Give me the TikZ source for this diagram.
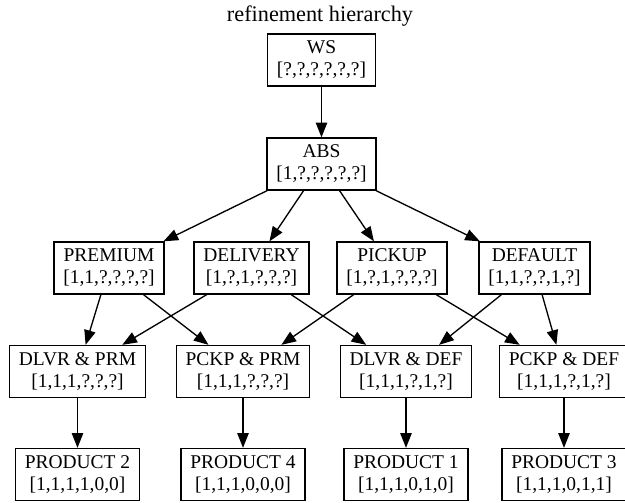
\documentclass[tikz,border=0pt]{standalone}
\usepackage{fontspec}
\setmainfont{Liberation Serif}
\usetikzlibrary{arrows.meta}

\begin{document}
\begin{tikzpicture}[x=0.75pt, y=-0.75pt,
  box/.style={draw, line width=1pt, align=center, minimum height=39pt, inner xsep=7pt,
    font=\fontsize{14.6}{16.5}\selectfont},
  edge/.style={line width=1pt, -{Triangle[length=11pt, width=8.5pt]}}]
\useasboundingbox (0,0) rectangle (625,503);
\def\yws{60}
\def\yabs{164}
\def\ymid{268}
\def\ycomb{371.5}
\def\yprod{474.5}

\node[font=\fontsize{16.7}{19}\selectfont] (title) at (320,16) {refinement hierarchy};

\node[box] (ws) at (321.5,\yws) {WS\\{}[?,?,?,?,?,?]};
\node[box] (abs) at (321.5,\yabs) {ABS\\{}[1,?,?,?,?,?]};

\node[box] (premium) at (109,\ymid) {PREMIUM\\{}[1,1,?,?,?,?]};
\node[box] (delivery) at (251.5,\ymid) {DELIVERY\\{}[1,?,1,?,?,?]};
\node[box] (pickup) at (392,\ymid) {PICKUP\\{}[1,?,1,?,?,?]};
\node[box] (default) at (534.5,\ymid) {DEFAULT\\{}[1,1,?,?,1,?]};

\node[box] (dlvrprm) at (77.5,\ycomb) {DLVR \& PRM\\{}[1,1,1,?,?,?]};
\node[box] (pckpprm) at (243,\ycomb) {PCKP \& PRM\\{}[1,1,1,?,?,?]};
\node[box] (dlvrdef) at (406,\ycomb) {DLVR \& DEF\\{}[1,1,1,?,1,?]};
\node[box] (pckpdef) at (564,\ycomb) {PCKP \& DEF\\{}[1,1,1,?,1,?]};

\node[box] (prod2) at (77.5,\yprod) {PRODUCT 2\\{}[1,1,1,1,0,0]};
\node[box] (prod4) at (243,\yprod) {PRODUCT 4\\{}[1,1,1,0,0,0]};
\node[box] (prod1) at (406,\yprod) {PRODUCT 1\\{}[1,1,1,0,1,0]};
\node[box] (prod3) at (564,\yprod) {PRODUCT 3\\{}[1,1,1,0,1,1]};

\draw[edge] (ws) -- (abs);

\draw[edge] (abs) -- (premium);
\draw[edge] (abs) -- (delivery);
\draw[edge] (abs) -- (pickup);
\draw[edge] (abs) -- (default);

\draw[edge] (premium) -- (dlvrprm);
\draw[edge] (premium) -- (pckpprm);
\draw[edge] (delivery) -- (dlvrprm);
\draw[edge] (delivery) -- (dlvrdef);
\draw[edge] (pickup) -- (pckpprm);
\draw[edge] (pickup) -- (pckpdef);
\draw[edge] (default) -- (dlvrdef);
\draw[edge] (default) -- (pckpdef);

\draw[edge] (dlvrprm) -- (prod2);
\draw[edge] (pckpprm) -- (prod4);
\draw[edge] (dlvrdef) -- (prod1);
\draw[edge] (pckpdef) -- (prod3);
\end{tikzpicture}
\end{document}
